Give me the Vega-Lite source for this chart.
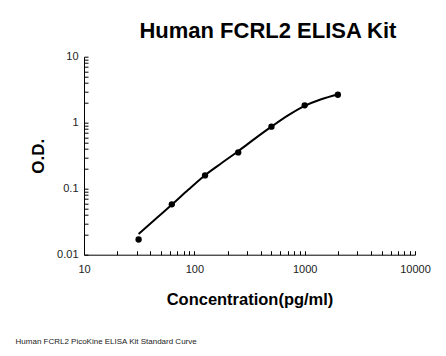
{
  "$schema": "https://vega.github.io/schema/vega-lite/v6.json",
  "background": "white",
  "padding": {"left": 15, "top": 19.7, "right": 5, "bottom": 5},
  "title": {
    "text": "Human FCRL2 ELISA Kit",
    "font": "Liberation Sans",
    "fontSize": 22,
    "fontWeight": "bold",
    "color": "black",
    "anchor": "middle",
    "dx": 45,
    "offset": 7.3
  },
  "config": {
    "view": {"stroke": null},
    "axis": {
      "grid": false,
      "domainColor": "black",
      "domainWidth": 1,
      "tickColor": "black",
      "tickSize": -4,
      "labelFont": "Liberation Sans",
      "labelFontSize": 11,
      "labelColor": "#222222",
      "titleFont": "Liberation Sans",
      "titleFontWeight": "bold",
      "titleColor": "black"
    }
  },
  "datasets": {
    "points": [
      {"conc": 31.25, "od": 0.017},
      {"conc": 62.5, "od": 0.058},
      {"conc": 125, "od": 0.159},
      {"conc": 250, "od": 0.355},
      {"conc": 500, "od": 0.87},
      {"conc": 1000, "od": 1.83},
      {"conc": 2000, "od": 2.65}
    ],
    "curve": [
      {"conc": 31.25, "od": 0.0206},
      {"conc": 44, "od": 0.0342},
      {"conc": 62.5, "od": 0.057},
      {"conc": 88, "od": 0.096},
      {"conc": 125, "od": 0.16},
      {"conc": 177, "od": 0.245},
      {"conc": 250, "od": 0.37},
      {"conc": 354, "od": 0.573},
      {"conc": 500, "od": 0.87},
      {"conc": 707, "od": 1.29},
      {"conc": 1000, "od": 1.8},
      {"conc": 1414, "od": 2.27},
      {"conc": 2000, "od": 2.68}
    ]
  },
  "vconcat": [
    {
      "title": {
        "text": "Human FCRL2 PicoKine ELISA Kit Standard Curve",
        "orient": "bottom",
        "anchor": "start",
        "font": "Liberation Sans",
        "fontSize": 8,
        "fontWeight": "normal",
        "color": "#222222",
        "offset": 30,
        "dx": -14
      },
      "width": 331,
      "height": 198,
      "layer": [
        {
          "data": {"name": "curve"},
          "mark": {"type": "line", "color": "black", "strokeWidth": 2, "interpolate": "monotone"},
          "encoding": {
            "x": {
              "field": "conc", "type": "quantitative",
              "scale": {"type": "log", "domain": [10, 10000], "nice": false},
              "axis": {
                "title": "Concentration(pg/ml)",
                "titleFontSize": 16.5,
                "titlePadding": 17,
                "labelPadding": 13,
                "values": [10,20,30,40,50,60,70,80,90,100,200,300,400,500,600,700,800,900,1000,2000,3000,4000,5000,6000,7000,8000,9000,10000],
                "labelExpr": "indexof([10,100,1000,10000], datum.value) >= 0 ? format(datum.value, 'd') : ''",
                "labelOverlap": false,
                "labelFlush": false
              }
            },
            "y": {
              "field": "od", "type": "quantitative",
              "scale": {"type": "log", "domain": [0.01, 10], "nice": false},
              "axis": {
                "title": "O.D.",
                "titleFontSize": 17,
                "titlePadding": 9,
                "labelPadding": 10,
                "values": [0.01,0.02,0.03,0.04,0.05,0.06,0.07,0.08,0.09,0.1,0.2,0.3,0.4,0.5,0.6,0.7,0.8,0.9,1,2,3,4,5,6,7,8,9,10],
                "labelExpr": "indexof([0.01,0.1,1,10], datum.value) >= 0 ? format(datum.value, '') : ''",
                "labelOverlap": false,
                "labelFlush": false
              }
            }
          }
        },
        {
          "data": {"name": "points"},
          "mark": {"type": "point", "filled": true, "color": "black", "size": 40, "opacity": 1},
          "encoding": {
            "x": {"field": "conc", "type": "quantitative"},
            "y": {"field": "od", "type": "quantitative"}
          }
        }
      ]
    }
  ]
}
